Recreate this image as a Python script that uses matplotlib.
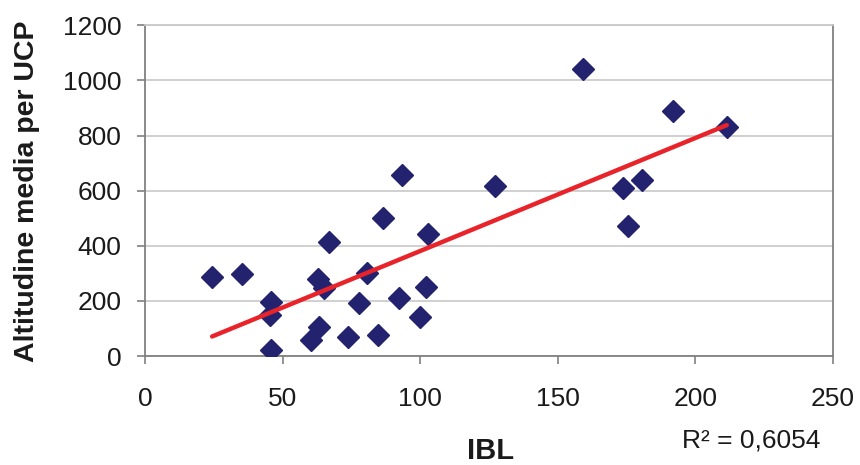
import numpy as np
import matplotlib
matplotlib.use('Agg')
import matplotlib.pyplot as plt

plt.rcParams['font.family'] = ['Liberation Sans', 'DejaVu Sans']

# IBL vs altitudine media per UCP
ibl = [24.4, 35.1, 45.7, 45.4, 45.7, 60.3, 63.0, 65.0, 63.3, 66.9,
       73.9, 77.8, 80.6, 84.6, 86.4, 92.3, 93.3, 99.9, 102.0, 103.0,
       127.2, 159.0, 173.6, 175.6, 180.5, 192.0, 211.4]
altitudine = [288, 298, 197, 149, 22, 58, 278, 246, 106, 412,
              68, 193, 300, 76, 500, 209, 657, 143, 249, 443,
              618, 1041, 608, 473, 639, 889, 830]

x = np.array(ibl)
y = np.array(altitudine)

# retta di regressione lineare
coef = np.polyfit(x, y, 1)
xl = np.array([x.min(), x.max()])
yl = np.polyval(coef, xl)

fig = plt.figure(figsize=(8.6, 4.65), dpi=100)
ax = fig.add_axes([0.1686, 0.2344, 0.8, 0.7112])

ax.yaxis.grid(True, color='#c8c8c8', linewidth=1.2)
ax.set_axisbelow(True)
ax.plot(x, y, 'D', color='#22226e', markersize=11, zorder=3)
ax.plot(xl, yl, color='#e8242a', linewidth=3.2, zorder=4, solid_capstyle='round')

ax.set_xlim(0, 250)
ax.set_ylim(0, 1200)
ax.set_xticks(range(0, 251, 50))
ax.set_yticks(range(0, 1201, 200))
for s in ax.spines.values():
    s.set_color('#808080')
    s.set_linewidth(1.3)
ax.spines['top'].set_color('#c8c8c8')
ax.tick_params(colors='#808080', length=6, width=1.2, labelsize=19,
               labelcolor='#1a1a1a', pad=11)
ax.tick_params(axis='x', pad=16)

fig.text(0.031, 0.588, 'Altitudine media per UCP', fontsize=20.5, fontweight='bold',
         color='#1a1a1a', rotation=90, ha='center', va='center')
fig.text(0.57, 0.03, 'IBL', fontsize=21, fontweight='bold', color='#1a1a1a',
         ha='center', va='center')
fig.text(0.874, 0.052, 'R\u00b2 = 0,6054', fontsize=19, color='#1a1a1a',
         ha='center', va='center')

fig.savefig('out.png', dpi=100)
